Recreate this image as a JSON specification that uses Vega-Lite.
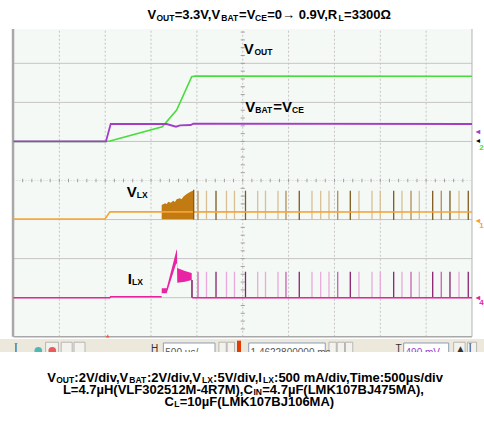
{
  "$schema": "https://vega.github.io/schema/vega-lite/v6.json",
  "width": 484,
  "height": 424,
  "autosize": {"type": "fit", "contains": "padding"},
  "padding": 0,
  "background": "white",
  "config": {"view": {"stroke": null}, "text": {"font": "Liberation Sans"}},
  "datasets": {
    "hgrid": [{"y": -3}, {"y": -2}, {"y": -1}, {"y": 1}, {"y": 2}, {"y": 3}],
    "vgrid": [{"x": 1}, {"x": 2}, {"x": 3}, {"x": 4}, {"x": 5}, {"x": 6}, {"x": 7}, {"x": 8}, {"x": 9}],
    "hticks": [{"x":0.2},{"x":0.4},{"x":0.6},{"x":0.8},{"x":1},{"x":1.2},{"x":1.4},{"x":1.6},{"x":1.8},{"x":2},{"x":2.2},{"x":2.4},{"x":2.6},{"x":2.8},{"x":3},{"x":3.2},{"x":3.4},{"x":3.6},{"x":3.8},{"x":4},{"x":4.2},{"x":4.4},{"x":4.6},{"x":4.8},{"x":5},{"x":5.2},{"x":5.4},{"x":5.6},{"x":5.8},{"x":6},{"x":6.2},{"x":6.4},{"x":6.6},{"x":6.8},{"x":7},{"x":7.2},{"x":7.4},{"x":7.6},{"x":7.8},{"x":8},{"x":8.2},{"x":8.4},{"x":8.6},{"x":8.8},{"x":9},{"x":9.2},{"x":9.4},{"x":9.6},{"x":9.8}],
    "vticks": [{"y":-3.8},{"y":-3.6},{"y":-3.4},{"y":-3.2},{"y":-3},{"y":-2.8},{"y":-2.6},{"y":-2.4},{"y":-2.2},{"y":-2},{"y":-1.8},{"y":-1.6},{"y":-1.4},{"y":-1.2},{"y":-1},{"y":-0.8},{"y":-0.6},{"y":-0.4},{"y":-0.2},{"y":0.2},{"y":0.4},{"y":0.6},{"y":0.8},{"y":1},{"y":1.2},{"y":1.4},{"y":1.6},{"y":1.8},{"y":2},{"y":2.2},{"y":2.4},{"y":2.6},{"y":2.8},{"y":3},{"y":3.2},{"y":3.4},{"y":3.6},{"y":3.8}],
    "traces": [
      {"ch": "VOUT", "seg": "VOUT", "x": 0, "y": 1.0},
      {"ch": "VOUT", "seg": "VOUT", "x": 2.017, "y": 1.0},
      {"ch": "VOUT", "seg": "VOUT", "x": 2.105, "y": 1.011},
      {"ch": "VOUT", "seg": "VOUT", "x": 3.245, "y": 1.377},
      {"ch": "VOUT", "seg": "VOUT", "x": 3.559, "y": 1.805},
      {"ch": "VOUT", "seg": "VOUT", "x": 3.887, "y": 2.657},
      {"ch": "VOUT", "seg": "VOUT", "x": 3.959, "y": 2.675},
      {"ch": "VOUT", "seg": "VOUT", "x": 10, "y": 2.67},
      {"ch": "VBAT", "seg": "VBAT", "x": 0, "y": 1.0},
      {"ch": "VBAT", "seg": "VBAT", "x": 2.017, "y": 1.0},
      {"ch": "VBAT", "seg": "VBAT", "x": 2.12, "y": 1.446},
      {"ch": "VBAT", "seg": "VBAT", "x": 3.341, "y": 1.446},
      {"ch": "VBAT", "seg": "VBAT", "x": 3.544, "y": 1.377},
      {"ch": "VBAT", "seg": "VBAT", "x": 3.632, "y": 1.413},
      {"ch": "VBAT", "seg": "VBAT", "x": 3.865, "y": 1.421},
      {"ch": "VBAT", "seg": "VBAT", "x": 3.921, "y": 1.454},
      {"ch": "VBAT", "seg": "VBAT", "x": 10, "y": 1.446},
      {"ch": "VLX", "seg": "VLX", "x": 0, "y": -0.986},
      {"ch": "VLX", "seg": "VLX", "x": 1.996, "y": -0.986},
      {"ch": "VLX", "seg": "VLX", "x": 2.104, "y": -0.8},
      {"ch": "VLX", "seg": "VLX", "x": 10, "y": -0.805},
      {"ch": "ILX", "seg": "ILX-a", "x": 0, "y": -3.0},
      {"ch": "ILX", "seg": "ILX-a", "x": 2.1, "y": -3.0},
      {"ch": "ILX", "seg": "ILX-a", "x": 2.12, "y": -2.975},
      {"ch": "ILX", "seg": "ILX-a", "x": 3.232, "y": -2.975},
      {"ch": "ILX", "seg": "ILX-b", "x": 3.9, "y": -3.0},
      {"ch": "ILX", "seg": "ILX-b", "x": 10, "y": -3.0}
    ],
    "burst": [
      {"x": 3.232, "y": -0.627}, {"x": 3.304, "y": -0.584}, {"x": 3.341, "y": -0.602},
      {"x": 3.376, "y": -0.543}, {"x": 3.429, "y": -0.568}, {"x": 3.485, "y": -0.517},
      {"x": 3.522, "y": -0.55}, {"x": 3.559, "y": -0.481}, {"x": 3.631, "y": -0.456},
      {"x": 3.668, "y": -0.481}, {"x": 3.703, "y": -0.415}, {"x": 3.778, "y": -0.346},
      {"x": 3.85, "y": -0.294}, {"x": 3.908, "y": -0.261}, {"x": 3.937, "y": -0.261}
    ],
    "band": [
      {"x": 3.232, "y": -2.98, "y2": -2.97},
      {"x": 3.234, "y": -2.888, "y2": -2.76},
      {"x": 3.341, "y": -2.888, "y2": -2.76},
      {"x": 3.551, "y": -2.12, "y2": -1.8},
      {"x": 3.566, "y": -2.15, "y2": -1.761},
      {"x": 3.572, "y": -2.62, "y2": -2.24},
      {"x": 3.74, "y": -2.59, "y2": -2.32},
      {"x": 3.887, "y": -2.55, "y2": -2.37}
    ],
    "spikes": [
      {"x": 4.024, "p": 2}, {"x": 4.209, "p": 1}, {"x": 4.417, "p": 3}, {"x": 4.646, "p": 1},
      {"x": 4.82, "p": 1}, {"x": 5.06, "p": 3}, {"x": 5.326, "p": 1}, {"x": 5.496, "p": 1},
      {"x": 5.769, "p": 1}, {"x": 5.943, "p": 2}, {"x": 6.233, "p": 3}, {"x": 6.51, "p": 1},
      {"x": 6.7, "p": 1}, {"x": 6.881, "p": 1}, {"x": 7.071, "p": 2}, {"x": 7.346, "p": 3},
      {"x": 7.535, "p": 1}, {"x": 7.819, "p": 1}, {"x": 8.0, "p": 1}, {"x": 8.292, "p": 3},
      {"x": 8.473, "p": 1}, {"x": 8.67, "p": 2}, {"x": 8.851, "p": 1}, {"x": 9.143, "p": 3},
      {"x": 9.33, "p": 2}, {"x": 9.52, "p": 3}, {"x": 9.717, "p": 1}, {"x": 9.919, "p": 3}
    ],
    "lblMain": [
      {"x": 5.021, "y": 3.231, "text": "V"},
      {"x": 5.056, "y": 1.761, "text": "V"},
      {"x": 5.665, "y": 1.761, "text": "=V"},
      {"x": 2.469, "y": -0.43, "text": "V"},
      {"x": 2.491, "y": -2.65, "text": "I"}
    ],
    "lblSub": [
      {"x": 5.256, "y": 3.205, "text": "OUT"},
      {"x": 5.274, "y": 1.735, "text": "BAT"},
      {"x": 6.075, "y": 1.735, "text": "CE"},
      {"x": 2.69, "y": -0.456, "text": "LX"},
      {"x": 2.586, "y": -2.676, "text": "LX"}
    ],
    "chm": [
      {"x": 10.08, "y": 1.2, "text": "◂", "ch": "VBAT"},
      {"x": 10.16, "y": 0.78, "text": "2", "ch": "VOUT"},
      {"x": 10.08, "y": -1.08, "text": "◂", "ch": "VLX"},
      {"x": 10.16, "y": -1.22, "text": "1", "ch": "VLX"},
      {"x": 10.08, "y": -3.06, "text": "◂", "ch": "ILX"},
      {"x": 10.16, "y": -3.2, "text": "4", "ch": "ILX"}
    ],
    "capMain": [
      {"x": 2.923, "y": 4.127, "text": "V"},
      {"x": 3.515, "y": 4.127, "text": "=3.3V,V"},
      {"x": 4.92, "y": 4.127, "text": "=V"},
      {"x": 5.535, "y": 4.127, "text": "=0→ 0.9V,R"},
      {"x": 7.21, "y": 4.127, "text": "=3300Ω"},
      {"x": 0.735, "y": -5.151, "text": "V"},
      {"x": 1.327, "y": -5.151, "text": ":2V/div,V"},
      {"x": 2.912, "y": -5.151, "text": ":2V/div,V"},
      {"x": 4.353, "y": -5.151, "text": ":5V/div,I"},
      {"x": 5.683, "y": -5.151, "text": ":500 mA/div,Time:500µs/div"},
      {"x": 1.077, "y": -5.458, "text": "L=4.7µH(VLF302512M-4R7M),C"},
      {"x": 5.425, "y": -5.458, "text": "=4.7µF(LMK107BJ475MA),"},
      {"x": 3.293, "y": -5.765, "text": "C"},
      {"x": 3.624, "y": -5.765, "text": "=10µF(LMK107BJ106MA)"}
    ],
    "capSub": [
      {"x": 3.118, "y": 4.089, "text": "OUT"},
      {"x": 4.531, "y": 4.089, "text": "BAT"},
      {"x": 5.27, "y": 4.089, "text": "CE"},
      {"x": 7.09, "y": 4.089, "text": "L"},
      {"x": 0.931, "y": -5.19, "text": "OUT"},
      {"x": 2.525, "y": -5.19, "text": "BAT"},
      {"x": 4.11, "y": -5.19, "text": "LX"},
      {"x": 5.442, "y": -5.19, "text": "LX"},
      {"x": 5.234, "y": -5.496, "text": "IN"},
      {"x": 3.504, "y": -5.804, "text": "L"}
    ],
    "tbBoxes": [{"x": 3.268, "x2": 4.395}, {"x": 5.13, "x2": 6.8}, {"x": 8.51, "x2": 9.492}],
    "tbButtons": [{"x": 4.48, "x2": 4.64}, {"x": 4.66, "x2": 4.82}, {"x": 6.88, "x2": 7.04}, {"x": 7.06, "x2": 7.22}, {"x": 7.24, "x2": 7.4}, {"x": 9.6, "x2": 9.85}, {"x": 9.9, "x2": 10.1}, {"x": 0.7, "x2": 0.98}, {"x": 1.04, "x2": 1.28}, {"x": 1.32, "x2": 1.56}],
    "tbGray": [{"x": 3.31, "text": "500 µs/"}, {"x": 5.17, "text": "1.4622800000 ms"}],
    "tbPurple": [{"x": 8.55, "text": "490 mV"}],
    "tbGlyphs": [{"x": 0.02, "text": "Ī"}, {"x": 3.0, "text": "H"}, {"x": 8.33, "text": "T"}, {"x": 9.64, "text": "▲"}, {"x": 9.93, "text": "Ī"}]
  },
  "layer": [
    {"data": {"values": [{}]}, "mark": {"type": "rect", "fill": "#f5f9f6"},
     "encoding": {
       "x": {"datum": 0, "type": "quantitative", "scale": {"domain": [-0.2944, 10.262], "nice": false, "zero": false}, "axis": null},
       "x2": {"datum": 10},
       "y": {"datum": -4, "type": "quantitative", "scale": {"domain": [-6.234, 4.621], "nice": false, "zero": false}, "axis": null},
       "y2": {"datum": 3.88}}},
    {"data": {"name": "hgrid"}, "mark": {"type": "rule", "stroke": "#c4c4c4", "strokeWidth": 1},
     "encoding": {
       "x": {"datum": 0, "type": "quantitative", "scale": {"domain": [-0.2944, 10.262], "nice": false, "zero": false}, "axis": null},
       "x2": {"datum": 10},
       "y": {"field": "y", "type": "quantitative", "scale": {"domain": [-6.234, 4.621], "nice": false, "zero": false}, "axis": null}}},
    {"data": {"name": "vgrid"}, "mark": {"type": "rule", "stroke": "#c4c4c4", "strokeWidth": 1, "strokeDash": [2, 2]},
     "encoding": {
       "x": {"field": "x", "type": "quantitative", "scale": {"domain": [-0.2944, 10.262], "nice": false, "zero": false}, "axis": null},
       "y": {"datum": -4, "type": "quantitative", "scale": {"domain": [-6.234, 4.621], "nice": false, "zero": false}, "axis": null},
       "y2": {"datum": 3.88}}},
    {"data": {"values": [{}]}, "mark": {"type": "rule", "stroke": "#d0d0d0", "strokeDash": [1, 2]},
     "encoding": {
       "x": {"datum": 0, "type": "quantitative", "scale": {"domain": [-0.2944, 10.262], "nice": false, "zero": false}, "axis": null},
       "x2": {"datum": 10},
       "y": {"datum": 0, "type": "quantitative", "scale": {"domain": [-6.234, 4.621], "nice": false, "zero": false}, "axis": null}}},
    {"data": {"name": "hticks"}, "mark": {"type": "rule", "stroke": "#a0a0a0"},
     "encoding": {
       "x": {"field": "x", "type": "quantitative", "scale": {"domain": [-0.2944, 10.262], "nice": false, "zero": false}, "axis": null},
       "y": {"datum": -0.045, "type": "quantitative", "scale": {"domain": [-6.234, 4.621], "nice": false, "zero": false}, "axis": null},
       "y2": {"datum": 0.045}}},
    {"data": {"name": "vticks"}, "mark": {"type": "rule", "stroke": "#a0a0a0"},
     "encoding": {
       "x": {"datum": 4.955, "type": "quantitative", "scale": {"domain": [-0.2944, 10.262], "nice": false, "zero": false}, "axis": null},
       "x2": {"datum": 5.045},
       "y": {"field": "y", "type": "quantitative", "scale": {"domain": [-6.234, 4.621], "nice": false, "zero": false}, "axis": null}}},
    {"data": {"values": [{}]}, "mark": {"type": "rule", "stroke": "#a8a8a8", "strokeWidth": 2.5},
     "encoding": {
       "x": {"datum": -0.01, "type": "quantitative", "scale": {"domain": [-0.2944, 10.262], "nice": false, "zero": false}, "axis": null},
       "y": {"datum": -4, "type": "quantitative", "scale": {"domain": [-6.234, 4.621], "nice": false, "zero": false}, "axis": null},
       "y2": {"datum": 3.88}}},
    {"data": {"values": [{}]}, "mark": {"type": "rule", "stroke": "#a8a8a8", "strokeWidth": 1.5},
     "encoding": {
       "x": {"datum": 0, "type": "quantitative", "scale": {"domain": [-0.2944, 10.262], "nice": false, "zero": false}, "axis": null},
       "x2": {"datum": 10},
       "y": {"datum": -4, "type": "quantitative", "scale": {"domain": [-6.234, 4.621], "nice": false, "zero": false}, "axis": null}}},
    {"data": {"values": [{}]}, "mark": {"type": "rule", "stroke": "#b4b4b4", "strokeWidth": 1},
     "encoding": {
       "x": {"datum": 10, "type": "quantitative", "scale": {"domain": [-0.2944, 10.262], "nice": false, "zero": false}, "axis": null},
       "y": {"datum": -4, "type": "quantitative", "scale": {"domain": [-6.234, 4.621], "nice": false, "zero": false}, "axis": null},
       "y2": {"datum": 3.88}}},
    {"data": {"name": "burst"}, "mark": {"type": "area", "color": "#c27a12"},
     "encoding": {
       "x": {"field": "x", "type": "quantitative", "scale": {"domain": [-0.2944, 10.262], "nice": false, "zero": false}, "axis": null},
       "y": {"field": "y", "type": "quantitative", "scale": {"domain": [-6.234, 4.621], "nice": false, "zero": false}, "axis": null},
       "y2": {"datum": -0.99}}},
    {"data": {"name": "spikes"}, "transform": [{"filter": "datum.p == 1"}], "mark": {"type": "rule", "stroke": "#d9bf94", "strokeWidth": 1.3},
     "encoding": {
       "x": {"field": "x", "type": "quantitative", "scale": {"domain": [-0.2944, 10.262], "nice": false, "zero": false}, "axis": null},
       "y": {"datum": -1.011, "type": "quantitative", "scale": {"domain": [-6.234, 4.621], "nice": false, "zero": false}, "axis": null},
       "y2": {"datum": -0.261}}},
    {"data": {"name": "spikes"}, "transform": [{"filter": "datum.p == 2"}], "mark": {"type": "rule", "stroke": "#b08c58", "strokeWidth": 1.3},
     "encoding": {
       "x": {"field": "x", "type": "quantitative", "scale": {"domain": [-0.2944, 10.262], "nice": false, "zero": false}, "axis": null},
       "y": {"datum": -1.011, "type": "quantitative", "scale": {"domain": [-6.234, 4.621], "nice": false, "zero": false}, "axis": null},
       "y2": {"datum": -0.261}}},
    {"data": {"name": "spikes"}, "transform": [{"filter": "datum.p == 3"}], "mark": {"type": "rule", "stroke": "#7e5a20", "strokeWidth": 1.3},
     "encoding": {
       "x": {"field": "x", "type": "quantitative", "scale": {"domain": [-0.2944, 10.262], "nice": false, "zero": false}, "axis": null},
       "y": {"datum": -1.011, "type": "quantitative", "scale": {"domain": [-6.234, 4.621], "nice": false, "zero": false}, "axis": null},
       "y2": {"datum": -0.261}}},
    {"data": {"name": "spikes"}, "transform": [{"filter": "datum.p == 1"}], "mark": {"type": "rule", "stroke": "#eaa8dc", "strokeWidth": 1.3},
     "encoding": {
       "x": {"field": "x", "type": "quantitative", "scale": {"domain": [-0.2944, 10.262], "nice": false, "zero": false}, "axis": null},
       "y": {"datum": -3.0, "type": "quantitative", "scale": {"domain": [-6.234, 4.621], "nice": false, "zero": false}, "axis": null},
       "y2": {"datum": -2.335}}},
    {"data": {"name": "spikes"}, "transform": [{"filter": "datum.p == 2"}], "mark": {"type": "rule", "stroke": "#c860b0", "strokeWidth": 1.3},
     "encoding": {
       "x": {"field": "x", "type": "quantitative", "scale": {"domain": [-0.2944, 10.262], "nice": false, "zero": false}, "axis": null},
       "y": {"datum": -3.0, "type": "quantitative", "scale": {"domain": [-6.234, 4.621], "nice": false, "zero": false}, "axis": null},
       "y2": {"datum": -2.335}}},
    {"data": {"name": "spikes"}, "transform": [{"filter": "datum.p == 3"}], "mark": {"type": "rule", "stroke": "#8a2070", "strokeWidth": 1.3},
     "encoding": {
       "x": {"field": "x", "type": "quantitative", "scale": {"domain": [-0.2944, 10.262], "nice": false, "zero": false}, "axis": null},
       "y": {"datum": -3.0, "type": "quantitative", "scale": {"domain": [-6.234, 4.621], "nice": false, "zero": false}, "axis": null},
       "y2": {"datum": -2.335}}},
    {"data": {"name": "traces"}, "transform": [{"filter": "datum.ch != 'VBAT'"}], "mark": {"type": "line", "strokeWidth": 1.6},
     "encoding": {
       "x": {"field": "x", "type": "quantitative", "scale": {"domain": [-0.2944, 10.262], "nice": false, "zero": false}, "axis": null},
       "y": {"field": "y", "type": "quantitative", "scale": {"domain": [-6.234, 4.621], "nice": false, "zero": false}, "axis": null},
       "color": {"field": "ch", "type": "nominal", "scale": {"domain": ["VOUT", "VBAT", "VLX", "ILX"], "range": ["#48dc3c", "#a43cc8", "#f6a434", "#e8229e"]}, "legend": null},
       "detail": {"field": "seg"}}},
    {"data": {"name": "traces"}, "transform": [{"filter": "datum.ch == 'VBAT'"}], "mark": {"type": "line", "strokeWidth": 1.8},
     "encoding": {
       "x": {"field": "x", "type": "quantitative", "scale": {"domain": [-0.2944, 10.262], "nice": false, "zero": false}, "axis": null},
       "y": {"field": "y", "type": "quantitative", "scale": {"domain": [-6.234, 4.621], "nice": false, "zero": false}, "axis": null},
       "color": {"field": "ch", "type": "nominal", "legend": null}}},
    {"data": {"name": "band"}, "mark": {"type": "area", "color": "#e824a4"},
     "encoding": {
       "x": {"field": "x", "type": "quantitative", "scale": {"domain": [-0.2944, 10.262], "nice": false, "zero": false}, "axis": null},
       "y": {"field": "y", "type": "quantitative", "scale": {"domain": [-6.234, 4.621], "nice": false, "zero": false}, "axis": null},
       "y2": {"field": "y2"}}},
    {"data": {"values": [{}]}, "mark": {"type": "rule", "stroke": "#7a1c60", "strokeWidth": 1.5},
     "encoding": {
       "x": {"datum": 3.893, "type": "quantitative", "scale": {"domain": [-0.2944, 10.262], "nice": false, "zero": false}, "axis": null},
       "y": {"datum": -3.0, "type": "quantitative", "scale": {"domain": [-6.234, 4.621], "nice": false, "zero": false}, "axis": null},
       "y2": {"datum": -2.55}}},
    {"data": {"values": [{}]}, "mark": {"type": "rule", "stroke": "#8a5a10", "strokeWidth": 1.3},
     "encoding": {
       "x": {"datum": 3.93, "type": "quantitative", "scale": {"domain": [-0.2944, 10.262], "nice": false, "zero": false}, "axis": null},
       "y": {"datum": -1.0, "type": "quantitative", "scale": {"domain": [-6.234, 4.621], "nice": false, "zero": false}, "axis": null},
       "y2": {"datum": -0.24}}},
    {"data": {"name": "lblMain"}, "mark": {"type": "text", "align": "left", "baseline": "alphabetic", "fontSize": 15, "fontWeight": "bold", "color": "#000000"},
     "encoding": {
       "x": {"field": "x", "type": "quantitative", "scale": {"domain": [-0.2944, 10.262], "nice": false, "zero": false}, "axis": null},
       "y": {"field": "y", "type": "quantitative", "scale": {"domain": [-6.234, 4.621], "nice": false, "zero": false}, "axis": null},
       "text": {"field": "text"}}},
    {"data": {"name": "lblSub"}, "mark": {"type": "text", "align": "left", "baseline": "alphabetic", "fontSize": 8.5, "fontWeight": "bold", "color": "#000000"},
     "encoding": {
       "x": {"field": "x", "type": "quantitative", "scale": {"domain": [-0.2944, 10.262], "nice": false, "zero": false}, "axis": null},
       "y": {"field": "y", "type": "quantitative", "scale": {"domain": [-6.234, 4.621], "nice": false, "zero": false}, "axis": null},
       "text": {"field": "text"}}},
    {"data": {"name": "chm"}, "mark": {"type": "text", "align": "left", "baseline": "alphabetic", "fontSize": 8, "fontWeight": "bold"},
     "encoding": {
       "x": {"field": "x", "type": "quantitative", "scale": {"domain": [-0.2944, 10.262], "nice": false, "zero": false}, "axis": null},
       "y": {"field": "y", "type": "quantitative", "scale": {"domain": [-6.234, 4.621], "nice": false, "zero": false}, "axis": null},
       "text": {"field": "text"},
       "color": {"field": "ch", "type": "nominal", "legend": null}}},
    {"data": {"values": [{}]}, "mark": {"type": "text", "align": "left", "baseline": "alphabetic", "fontSize": 8, "color": "#000000", "text": "◂"},
     "encoding": {
       "x": {"datum": 10.08, "type": "quantitative", "scale": {"domain": [-0.2944, 10.262], "nice": false, "zero": false}, "axis": null},
       "y": {"datum": 0.95, "type": "quantitative", "scale": {"domain": [-6.234, 4.621], "nice": false, "zero": false}, "axis": null}}},
    {"data": {"values": [{}]}, "mark": {"type": "point", "shape": "triangle-up", "filled": true, "size": 14, "color": "#ff3a10"},
     "encoding": {
       "x": {"datum": 2.054, "type": "quantitative", "scale": {"domain": [-0.2944, 10.262], "nice": false, "zero": false}, "axis": null},
       "y": {"datum": -3.98, "type": "quantitative", "scale": {"domain": [-6.234, 4.621], "nice": false, "zero": false}, "axis": null}}},
    {"data": {"values": [{}]}, "mark": {"type": "rect", "fill": "#ece9dc"},
     "encoding": {
       "x": {"datum": -0.2944, "type": "quantitative", "scale": {"domain": [-0.2944, 10.262], "nice": false, "zero": false}, "axis": null},
       "x2": {"datum": 10.262},
       "y": {"datum": -4.058, "type": "quantitative", "scale": {"domain": [-6.234, 4.621], "nice": false, "zero": false}, "axis": null},
       "y2": {"datum": -4.45}}},
    {"data": {"name": "tbButtons"}, "mark": {"type": "rect", "fill": "#f3f2ec", "stroke": "#a8a8a8", "strokeWidth": 0.8},
     "encoding": {
       "x": {"field": "x", "type": "quantitative", "scale": {"domain": [-0.2944, 10.262], "nice": false, "zero": false}, "axis": null},
       "x2": {"field": "x2"},
       "y": {"datum": -4.14, "type": "quantitative", "scale": {"domain": [-6.234, 4.621], "nice": false, "zero": false}, "axis": null},
       "y2": {"datum": -4.5}}},
    {"data": {"name": "tbBoxes"}, "mark": {"type": "rect", "fill": "#ffffff", "stroke": "#8a9fb8", "strokeWidth": 1},
     "encoding": {
       "x": {"field": "x", "type": "quantitative", "scale": {"domain": [-0.2944, 10.262], "nice": false, "zero": false}, "axis": null},
       "x2": {"field": "x2"},
       "y": {"datum": -4.16, "type": "quantitative", "scale": {"domain": [-6.234, 4.621], "nice": false, "zero": false}, "axis": null},
       "y2": {"datum": -4.5}}},
    {"data": {"values": [{}]}, "mark": {"type": "rect", "fill": "#e23c06"},
     "encoding": {
       "x": {"datum": 4.875, "type": "quantitative", "scale": {"domain": [-0.2944, 10.262], "nice": false, "zero": false}, "axis": null},
       "x2": {"datum": 4.962},
       "y": {"datum": -4.1, "type": "quantitative", "scale": {"domain": [-6.234, 4.621], "nice": false, "zero": false}, "axis": null},
       "y2": {"datum": -4.45}}},
    {"data": {"name": "tbGray"}, "mark": {"type": "text", "align": "left", "baseline": "alphabetic", "fontSize": 10, "color": "#555555"},
     "encoding": {
       "x": {"field": "x", "type": "quantitative", "scale": {"domain": [-0.2944, 10.262], "nice": false, "zero": false}, "axis": null},
       "y": {"datum": -4.49, "type": "quantitative", "scale": {"domain": [-6.234, 4.621], "nice": false, "zero": false}, "axis": null},
       "text": {"field": "text"}}},
    {"data": {"name": "tbPurple"}, "mark": {"type": "text", "align": "left", "baseline": "alphabetic", "fontSize": 10, "color": "#9b40c8"},
     "encoding": {
       "x": {"field": "x", "type": "quantitative", "scale": {"domain": [-0.2944, 10.262], "nice": false, "zero": false}, "axis": null},
       "y": {"datum": -4.49, "type": "quantitative", "scale": {"domain": [-6.234, 4.621], "nice": false, "zero": false}, "axis": null},
       "text": {"field": "text"}}},
    {"data": {"name": "tbGlyphs"}, "mark": {"type": "text", "align": "left", "baseline": "alphabetic", "fontSize": 10, "color": "#333333"},
     "encoding": {
       "x": {"field": "x", "type": "quantitative", "scale": {"domain": [-0.2944, 10.262], "nice": false, "zero": false}, "axis": null},
       "y": {"datum": -4.4, "type": "quantitative", "scale": {"domain": [-6.234, 4.621], "nice": false, "zero": false}, "axis": null},
       "text": {"field": "text"}}},
    {"data": {"values": [{}]}, "mark": {"type": "point", "filled": true, "size": 60, "color": "#12a3a3"},
     "encoding": {
       "x": {"datum": 0.541, "type": "quantitative", "scale": {"domain": [-0.2944, 10.262], "nice": false, "zero": false}, "axis": null},
       "y": {"datum": -4.36, "type": "quantitative", "scale": {"domain": [-6.234, 4.621], "nice": false, "zero": false}, "axis": null}}},
    {"data": {"values": [{}]}, "mark": {"type": "point", "filled": true, "size": 60, "color": "#e41c1c"},
     "encoding": {
       "x": {"datum": 0.846, "type": "quantitative", "scale": {"domain": [-0.2944, 10.262], "nice": false, "zero": false}, "axis": null},
       "y": {"datum": -4.36, "type": "quantitative", "scale": {"domain": [-6.234, 4.621], "nice": false, "zero": false}, "axis": null}}},
    {"data": {"values": [{}]}, "mark": {"type": "rect", "fill": "#ffffff"},
     "encoding": {
       "x": {"datum": -0.2944, "type": "quantitative", "scale": {"domain": [-0.2944, 10.262], "nice": false, "zero": false}, "axis": null},
       "x2": {"datum": 10.262},
       "y": {"datum": -4.391, "type": "quantitative", "scale": {"domain": [-6.234, 4.621], "nice": false, "zero": false}, "axis": null},
       "y2": {"datum": -4.75}}},
    {"data": {"name": "capMain"}, "mark": {"type": "text", "align": "left", "baseline": "alphabetic", "fontSize": 13, "fontWeight": "bold", "color": "#000000"},
     "encoding": {
       "x": {"field": "x", "type": "quantitative", "scale": {"domain": [-0.2944, 10.262], "nice": false, "zero": false}, "axis": null},
       "y": {"field": "y", "type": "quantitative", "scale": {"domain": [-6.234, 4.621], "nice": false, "zero": false}, "axis": null},
       "text": {"field": "text"}}},
    {"data": {"name": "capSub"}, "mark": {"type": "text", "align": "left", "baseline": "alphabetic", "fontSize": 8.5, "fontWeight": "bold", "color": "#000000"},
     "encoding": {
       "x": {"field": "x", "type": "quantitative", "scale": {"domain": [-0.2944, 10.262], "nice": false, "zero": false}, "axis": null},
       "y": {"field": "y", "type": "quantitative", "scale": {"domain": [-6.234, 4.621], "nice": false, "zero": false}, "axis": null},
       "text": {"field": "text"}}}
  ]
}
